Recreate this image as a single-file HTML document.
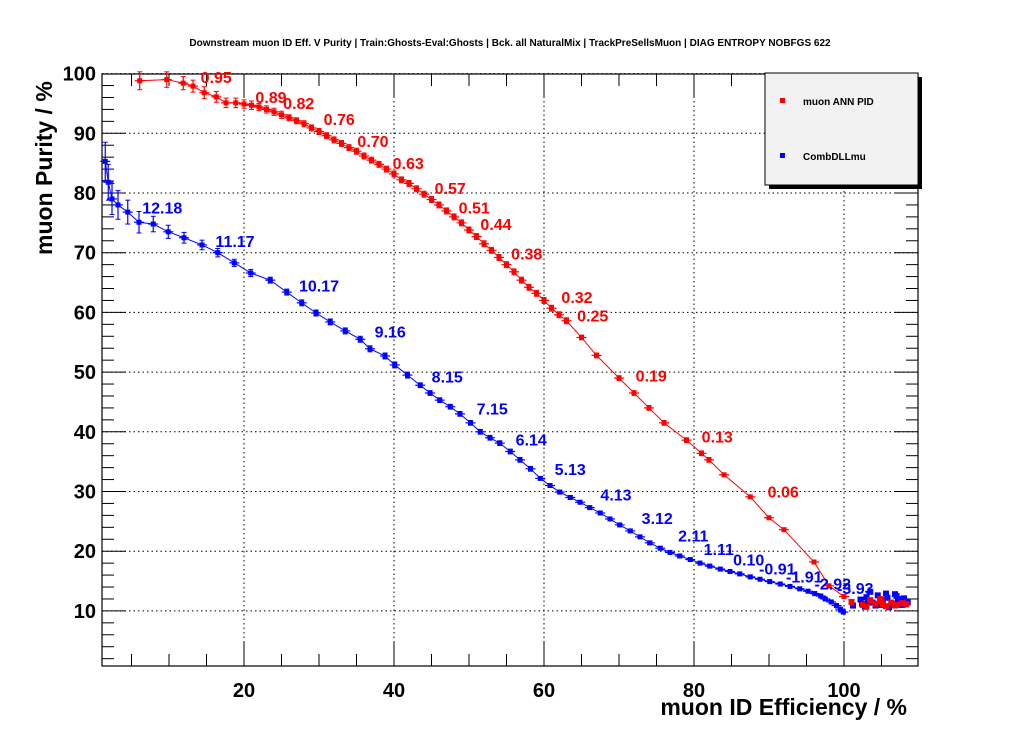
<!DOCTYPE html>
<html><head><meta charset="utf-8"><style>
body{margin:0;background:#fff;}
svg{display:block;font-family:"Liberation Sans",sans-serif;}
</style></head><body>
<svg id="c" width="1020" height="740">
<rect width="1020" height="740" fill="#fff"/>
<text x="510" y="46" text-anchor="middle" font-size="10" font-weight="bold">Downstream muon ID Eff. V Purity | Train:Ghosts-Eval:Ghosts | Bck. all NaturalMix | TrackPreSellsMuon | DIAG ENTROPY NOBFGS 622</text>
<g id="grid"></g><g id="axes"></g><g id="series"></g><g id="labels"></g>
<g>
<rect x="769" y="77" width="153" height="112" fill="#000"/>
<rect x="765" y="73" width="153" height="112" fill="#f2f2f2" stroke="#000"/>
<rect x="780" y="98" width="5" height="5" fill="#f00"/>
<text x="803" y="105" font-size="10" font-weight="bold">muon ANN PID</text>
<rect x="780" y="153" width="5" height="5" fill="#00f"/>
<text x="803" y="160" font-size="10" font-weight="bold">CombDLLmu</text>
</g>
<text x="907" y="715" text-anchor="end" font-size="23" font-weight="bold">muon ID Efficiency / %</text>
<text transform="translate(52,255) rotate(-90)" text-anchor="start" font-size="23" font-weight="bold">muon Purity / %</text>
</svg>
<script>
const xTicks=[20,40,60,80,100];
const yTicks=[10,20,30,40,50,60,70,80,90,100];
const annX=[6.1,9.7,11.9,13.2,14.7,16.3,17.6,18.9,20,21,22,23,24,25,26,27,28,29,30,31,32,33,34,35,36,37,38,39,40,41,42,43,44,45,46,47,48,49,50,51,52,53,54,55,56,57,58,59,60,61,62,63,65,67,70,72,74,76,79,81,82,84,87.5,90,92,96,98,100];
const annY=[98.8,99.0,98.4,97.9,96.8,96.1,95.1,95.1,94.9,94.7,94.4,94.0,93.6,93.1,92.6,92.1,91.6,90.9,90.3,89.6,88.9,88.3,87.6,87.0,86.2,85.5,84.8,84.0,83.2,82.2,81.6,80.7,79.8,78.9,78.0,77.0,76.0,75.0,73.8,72.7,71.5,70.4,69.2,68.0,66.8,65.4,64.2,63.2,62.0,60.7,59.6,58.6,55.8,52.8,49.0,46.5,44.0,41.5,38.6,36.4,35.3,32.8,29.1,25.6,23.6,18.2,14.2,12.4];
const annYerr=[1.5,1.3,1.1,1.0,1.0,0.9,0.8,0.8,0.7,0.7,0.6,0.6,0.6,0.6,0.5,0.5,0.5,0.5,0.5,0.5,0.5,0.5,0.5,0.5,0.5,0.5,0.5,0.5,0.5,0.5,0.5,0.5,0.5,0.5,0.5,0.5,0.5,0.5,0.5,0.5,0.5,0.5,0.5,0.5,0.5,0.5,0.5,0.5,0.5,0.5,0.5,0.5,0.4,0.4,0.4,0.4,0.4,0.4,0.4,0.4,0.4,0.3,0.3,0.3,0.3,0.3,0.3,0.3];
const annClusterX=[101,102.5,103.5,104.2,105,105.6,106.3,107,107.8,108.3,103,104.8,106.8,105.2];
const annClusterY=[11.5,11.0,11.8,11.2,11.6,10.8,11.4,11.0,11.3,11.1,10.7,12.0,10.9,11.1];
const dllX=[1.5,1.9,2.4,3.2,4.5,6.0,7.9,9.9,12,14.4,16.5,18.7,20.9,23.5,25.7,27.7,29.6,31.5,33.5,35.5,36.8,38.8,40.1,41.8,43.5,44.8,46.1,47.5,48.8,50.2,51.5,52.8,54.1,55.5,56.8,58.2,59.5,60.8,62.1,63.5,64.8,66.1,67.5,68.8,70.1,71.5,72.8,74.1,75.5,76.8,78.1,79.5,80.8,82.1,83.5,84.8,86.1,87.5,88.8,90.1,91.5,92.8,94.1,95.2,96.1,96.9,97.5,98.3,99.0,99.5,99.9];
const dllY=[85.3,81.8,79.0,78.0,76.8,75.1,74.8,73.5,72.5,71.3,70.0,68.3,66.6,65.4,63.4,61.6,59.9,58.4,56.9,55.5,53.9,52.7,51.2,49.5,47.8,46.5,45.3,44.2,43.0,41.5,40.0,39.0,38.1,36.7,35.3,33.8,32.2,31.0,29.9,29.0,28.2,27.3,26.4,25.4,24.4,23.4,22.4,21.4,20.5,19.8,19.2,18.6,18.0,17.5,17.0,16.6,16.2,15.7,15.3,14.9,14.5,14.1,13.7,13.3,12.9,12.5,12.0,11.5,10.9,10.3,9.8];
const dllYerr=[3.2,3.0,2.6,2.4,2.0,1.8,1.3,1.1,0.9,0.8,0.7,0.6,0.6,0.5,0.5,0.5,0.5,0.5,0.5,0.5,0.5,0.5,0.5,0.5,0.4,0.4,0.4,0.4,0.4,0.4,0.4,0.4,0.4,0.4,0.4,0.4,0.3,0.3,0.3,0.3,0.3,0.3,0.3,0.3,0.3,0.3,0.3,0.3,0.3,0.3,0.3,0.3,0.3,0.3,0.3,0.3,0.3,0.3,0.3,0.3,0.3,0.3,0.3,0.3,0.3,0.3,0.3,0.3,0.3,0.3,0.3];
const dllClusterX=[101.2,102.2,103,103.8,104.5,105.2,105.8,106.5,107.2,107.8,108.5,102.8,104.2,106,107.5,105,103.5,106.8,104.8,105.6,107,102.4,103.2,108];
const dllClusterY=[10.9,11.9,12.3,11.4,12.6,11.8,12.2,11.2,11.8,11.0,11.4,10.7,10.9,10.6,12.0,11.0,13.2,12.8,11.5,12.9,12.5,11.2,11.6,12.1];
const annLabels=["0.95","0.89","0.82","0.76","0.70","0.63","0.57","0.51","0.44","0.38","0.32","0.25","0.19","0.13","0.06"];
const annLabX=[16.3,23.6,27.3,32.7,37.2,41.9,47.5,50.7,53.6,57.7,64.4,66.5,74.3,83.1,91.9];
const annLabY=[99.4,96.1,95.1,92.4,88.7,85.0,80.8,77.6,74.8,69.9,62.6,59.5,49.4,39.2,30.0];
const dllLabels=["12.18","11.17","10.17","9.16","8.15","7.15","6.14","5.13","4.13","3.12","2.11","1.11","0.10","-0.91","-1.91","-2.92","-3.93"];
const dllLabX=[9.1,18.8,30.0,39.5,47.1,53.1,58.3,63.5,69.6,75.1,79.9,83.3,87.3,91.1,94.7,98.5,101.5];
const dllLabY=[77.6,72.0,64.5,56.8,49.3,43.9,38.7,33.8,29.5,25.6,22.6,20.4,18.6,17.1,15.8,14.6,13.8];

const X0=94,XS=7.5,Y0=670.6,YS=5.97;
const L=102,R=918,T=74,B=666;
const sx=v=>X0+XS*v, sy=v=>Y0-YS*v;
const NS="http://www.w3.org/2000/svg";
function mk(tag,parent,attrs){const e=document.createElementNS(NS,tag);for(const k in attrs)e.setAttribute(k,attrs[k]);parent.appendChild(e);return e;}
const grid=document.getElementById('grid'),axes=document.getElementById('axes'),ser=document.getElementById('series'),lab=document.getElementById('labels');
xTicks.forEach(t=>{const g=mk('line',grid,{x1:sx(t),x2:sx(t),y1:T,y2:B,stroke:'#000','stroke-dasharray':'1.5,3','stroke-width':1});


const tx=mk('text',axes,{x:sx(t),y:B+31,'text-anchor':'middle','font-size':20,'font-weight':'bold'});tx.textContent=t;

});
yTicks.forEach(t=>{const g=mk('line',grid,{x1:L,x2:R,y1:sy(t),y2:sy(t),stroke:'#000','stroke-dasharray':'1.5,3','stroke-width':1});


const tx=mk('text',axes,{x:L-6,y:sy(t)+7,'text-anchor':'end','font-size':20,'font-weight':'bold'});tx.textContent=t;

});
for(let v=5;v<=110;v+=5){if(sx(v)<=L||sx(v)>=R)continue;const big=v%20===0;mk('line',axes,{x1:sx(v),x2:sx(v),y1:B,y2:B-(big?24:12),stroke:'#000'});mk('line',axes,{x1:sx(v),x2:sx(v),y1:T,y2:T+(big?24:12),stroke:'#000'});}
for(let v=2;v<=100;v+=2){const y=sy(v);if(y<=T||y>=B)continue;const big=v%10===0;mk('line',axes,{x1:L,x2:L+(big?24:12),y1:y,y2:y,stroke:'#000'});mk('line',axes,{x1:R,x2:R-(big?24:12),y1:y,y2:y,stroke:'#000'});}
const fr=mk('rect',axes,{x:L,y:T,width:R-L,height:B-T,fill:'none',stroke:'#000','stroke-width':1.2});


function series(xs,ys,errs,col,name){
  const g=mk('g',ser,{});
  
  
  mk('polyline',g,{points:xs.map((x,i)=>sx(x)+','+sy(ys[i])).join(' '),fill:'none',stroke:col,'stroke-width':1});
  xs.forEach((x,i)=>{const px=sx(x),py=sy(ys[i]),e=errs[i]*YS;
    mk('line',g,{x1:px,x2:px,y1:py-e,y2:py+e,stroke:col,'stroke-width':1.2});
    mk('line',g,{x1:px-2.5,x2:px+2.5,y1:py-e,y2:py-e,stroke:col});
    mk('line',g,{x1:px-2.5,x2:px+2.5,y1:py+e,y2:py+e,stroke:col});
    mk('line',g,{x1:px-5,x2:px+5,y1:py,y2:py,stroke:col,'stroke-width':1.2});
    const m=mk('rect',g,{x:px-2.5,y:py-2.5,width:5,height:5,fill:col});
    
    });
}
function cluster(xs,ys,col,name){xs.forEach((x,i)=>{const m=mk('rect',ser,{x:sx(x)-3,y:sy(ys[i])-3,width:6,height:6,fill:col});
  
  });}
series(annX,annY,annYerr,'#f00','series-ann-pid');
series(dllX,dllY,dllYerr,'#00f','series-combdllmu');
cluster(dllClusterX,dllClusterY,'#00f','dll-cluster-point');
cluster(annClusterX,annClusterY,'#f00','ann-cluster-point');
function labels(txt,xs,ys,col,name){txt.forEach((t,i)=>{const e=mk('text',lab,{x:sx(xs[i]),y:sy(ys[i])+6,'text-anchor':'middle','font-size':16,'font-weight':'bold',fill:col});e.textContent=t;
  
  });}
labels(annLabels,annLabX,annLabY,'#f00','ann-cut-label');
labels(dllLabels,dllLabX,dllLabY,'#00f','dll-cut-label');
</script>
</body></html>
